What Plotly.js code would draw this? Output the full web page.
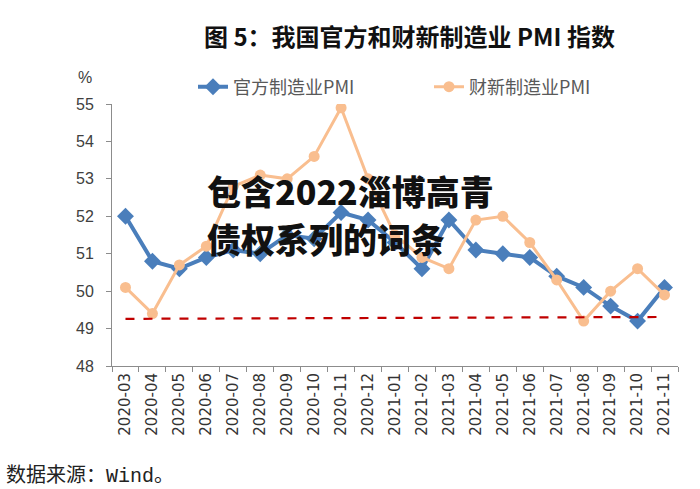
<!DOCTYPE html>
<html>
<head>
<meta charset="utf-8">
<script src="https://cdn.plot.ly/plotly-3.0.1.min.js"></script>
<style>
html,body{margin:0;padding:0;background:#fff;}
#chart{width:700px;height:489px;}
</style>
</head>
<body>
<div id="chart"></div>
<script>
const months = ["2020-03","2020-04","2020-05","2020-06","2020-07","2020-08","2020-09","2020-10","2020-11","2020-12","2021-01","2021-02","2021-03","2021-04","2021-05","2021-06","2021-07","2021-08","2021-09","2021-10","2021-11"];
const officialPMI = [52.0,50.8,50.6,50.9,51.1,51.0,51.5,51.4,52.1,51.9,51.3,50.6,51.9,51.1,51.0,50.9,50.4,50.1,49.6,49.2,50.1];
const caixinPMI = [50.1,49.4,50.7,51.2,52.8,53.1,53.0,53.6,54.9,53.0,51.5,50.9,50.6,51.9,52.0,51.3,50.3,49.2,50.0,50.6,49.9];
const refLineX = ["2020-03","2021-11"];
const refLineY = [49.26,49.31];
const seriesNames = ["官方制造业PMI","财新制造业PMI"];
const yTicks = [48,49,50,51,52,53,54,55];

const cjk = '"Noto Sans CJK SC", "Noto Sans", sans-serif';
const PL = 112, PW = 566, PT = 104, PH = 262;
const px = x => (x - PL) / PW;
const py = y => (PT + PH - y) / PH;

const traces = [
  {
    x: months, y: officialPMI, name: seriesNames[0], type: 'scatter', mode: 'lines+markers',
    line: {color: '#4a7ebb', width: 4},
    marker: {symbol: 'diamond', size: 13, color: '#4a7ebb'}
  },
  {
    x: months, y: caixinPMI, name: seriesNames[1], type: 'scatter', mode: 'lines+markers',
    line: {color: '#f9be8f', width: 3},
    marker: {symbol: 'circle', size: 11, color: '#f9be8f'}
  },
  {
    x: refLineX, y: refLineY, type: 'scatter', mode: 'lines', showlegend: false, hoverinfo: 'skip',
    line: {color: '#c00000', width: 2.2, dash: 'dash'}
  }
];

const layout = {
  width: 700, height: 489,
  margin: {l: PL, r: 700 - PL - PW, t: PT, b: 489 - PT - PH},
  paper_bgcolor: '#fff', plot_bgcolor: '#fff',
  showlegend: true,
  legend: {
    orientation: 'h', x: px(193), xanchor: 'left', y: py(87), yanchor: 'middle',
    font: {family: cjk, size: 18, color: '#595959'},
    entrywidth: 191, entrywidthmode: 'pixels',
    bgcolor: 'rgba(0,0,0,0)', traceorder: 'normal'
  },
  xaxis: {
    type: 'category', categoryorder: 'array', categoryarray: months,
    tickangle: -90, tickson: 'boundaries', ticks: 'outside', ticklen: 5, tickcolor: '#8c8c8c',
    showline: true, linecolor: '#8c8c8c', linewidth: 1, showgrid: false, zeroline: false,
    tickfont: {family: 'DejaVu Sans, sans-serif', size: 15, color: '#333'},
    range: [-0.5, months.length - 0.5]
  },
  yaxis: {
    range: [48, 55], tickvals: yTicks, ticks: 'outside', ticklen: 5, tickcolor: '#8c8c8c',
    showline: true, linecolor: '#8c8c8c', linewidth: 1, showgrid: false, zeroline: false,
    tickfont: {family: 'Liberation Sans, Arial, sans-serif', size: 16, color: '#404040'},
    ticklabelstandoff: 9
  },
  annotations: [
    {text: '图 5：我国官方和财新制造业 PMI 指数', xref: 'paper', yref: 'paper', x: px(409), y: py(35),
     xanchor: 'center', yanchor: 'middle', showarrow: false,
     font: {family: cjk, size: 24, color: '#111', weight: 'bold'}},
    {text: '%', xref: 'paper', yref: 'paper', x: px(85), y: py(78),
     xanchor: 'center', yanchor: 'middle', showarrow: false,
     font: {family: 'Liberation Sans, Arial, sans-serif', size: 16, color: '#404040'}},
    {text: '数据来源：<span style="font-family:Liberation Mono, monospace">Wind</span>。', xref: 'paper', yref: 'paper', x: px(4), y: py(473),
     xanchor: 'left', yanchor: 'middle', showarrow: false,
     font: {family: cjk, size: 20, color: '#222'}},
    {text: '包含2022淄博高青', xref: 'paper', yref: 'paper', x: px(205), y: py(190),
     xanchor: 'left', yanchor: 'middle', align: 'left', showarrow: false,
     font: {family: cjk, size: 34, color: '#111', weight: 900}},
    {text: '债权系列的词条', xref: 'paper', yref: 'paper', x: px(205), y: py(238),
     xanchor: 'left', yanchor: 'middle', align: 'left', showarrow: false,
     font: {family: cjk, size: 34, color: '#111', weight: 900}}
  ]
};

Plotly.newPlot('chart', traces, layout, {displayModeBar: false, staticPlot: true});
</script>
</body>
</html>
